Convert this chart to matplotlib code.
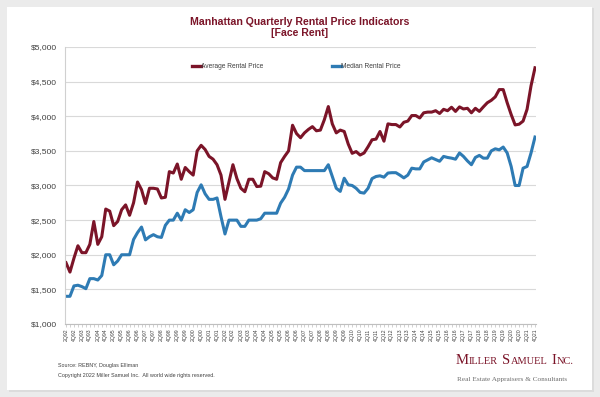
import numpy as np
import matplotlib
matplotlib.use("Agg")
import matplotlib.pyplot as plt
from matplotlib.patches import Rectangle

# quarterly series, 2Q92 .. 4Q21
years = list(range(1992, 2022))
quarters = [f"{q}Q{str(y)[-2:]}" for y in years for q in (1, 2, 3, 4)][1:]

average_rent = [
    1885, 1750, 1950, 2130, 2030, 2030, 2150, 2480, 2150, 2260,
    2660, 2630, 2420, 2480, 2650, 2720, 2570, 2750, 3050, 2940,
    2740, 2960, 2960, 2950, 2820, 2830, 3200, 3180, 3310, 3090,
    3260, 3200, 3150, 3500, 3580, 3520, 3420, 3380, 3300, 3150,
    2800, 3050, 3300, 3100, 2960, 2910, 3090, 3090, 2985, 2990,
    3200, 3170, 3110, 3090, 3330, 3420, 3500, 3870, 3750, 3690,
    3760, 3810, 3850, 3790, 3800, 3950, 4140, 3890, 3760, 3800,
    3780, 3600, 3465, 3490, 3440, 3470, 3560, 3660, 3670, 3780,
    3640, 3890, 3880, 3880, 3845, 3913, 3930, 4010, 4010, 3975,
    4050, 4060, 4060, 4080, 4040, 4100, 4080, 4130, 4070, 4135,
    4105, 4115, 4050, 4115, 4070, 4135, 4195, 4230, 4280, 4385,
    4385, 4195, 4025, 3875, 3885, 3930, 4100, 4440, 4700,
]

median_rent = [
    1400, 1400, 1550, 1560, 1540, 1510, 1655, 1655, 1635, 1700,
    2000, 2000, 1855, 1910, 2000, 2000, 2000, 2220, 2320, 2400,
    2215, 2260, 2290, 2260, 2250, 2425, 2500, 2500, 2600, 2500,
    2650, 2610, 2650, 2900, 3010, 2880, 2800, 2800, 2820, 2550,
    2300, 2500, 2500, 2500, 2410, 2410, 2500, 2500, 2500, 2520,
    2600, 2600, 2600, 2600, 2745, 2830, 2950, 3150, 3265, 3265,
    3215, 3215, 3215, 3215, 3215, 3215, 3300, 3130, 2960, 2915,
    3105, 3010, 3000, 2960, 2900, 2890, 2960, 3100, 3130, 3140,
    3120, 3180, 3185, 3185, 3150, 3110, 3150, 3250, 3240, 3240,
    3340, 3370, 3400, 3375, 3350, 3420, 3405, 3395, 3380, 3470,
    3420, 3355, 3300, 3405, 3435, 3395, 3395, 3500, 3530, 3515,
    3555, 3470, 3275, 3000, 3000, 3250, 3275, 3470, 3700,
]

y_ticks = list(range(1000, 5001, 500))

AVG_COLOR = "#7b1428"
MED_COLOR = "#2e7bb4"
TEXT_COLOR = "#404040"

plt.rcParams["font.family"] = ["Liberation Sans", "DejaVu Sans"]

fig = plt.figure(figsize=(6, 3.97), dpi=100, facecolor="#ebebeb")

# white card with a faint shadow, kept behind the axes
fig.patches.append(Rectangle((9 / 600, 5 / 397), 585 / 600, 384 / 397, transform=fig.transFigure,
                             facecolor="#dcdcdc", edgecolor="none", zorder=-2))
fig.patches.append(Rectangle((7 / 600, 7 / 397), 585 / 600, 383 / 397, transform=fig.transFigure,
                             facecolor="white", edgecolor="none", zorder=-1))

ax = fig.add_axes([65 / 600, 73 / 397, 471 / 600, 277 / 397])
ax.set_facecolor("none")

x = np.arange(len(quarters))
ax.plot(x, average_rent, color=AVG_COLOR, lw=2.2, label="Average Rental Price", solid_joinstyle="round")
ax.plot(x, median_rent, color=MED_COLOR, lw=2.2, label="Median Rental Price", solid_joinstyle="round")

ax.set_xlim(-0.25, len(quarters) - 0.75)
ax.set_ylim(1000, 5000)
ax.set_yticks(y_ticks)
ax.set_yticklabels([f"${v:,}" for v in y_ticks], fontsize=6, color=TEXT_COLOR)
ax.grid(axis="y", color="#d9d9d9", lw=0.8)
ax.set_axisbelow(True)

ax.set_xticks(x[::2])
ax.set_xticklabels(quarters[::2], rotation=90, fontsize=3.7, color=TEXT_COLOR)
ax.set_xticks(x, minor=True)
ax.tick_params(axis="x", which="both", length=2, width=0.5, color="#bfbfbf", pad=1.5)
ax.tick_params(axis="y", length=0, pad=6)

for side in ("top", "right"):
    ax.spines[side].set_visible(False)
ax.spines["left"].set_color("#d0d0d0")
ax.spines["bottom"].set_color("#bfbfbf")
ax.spines["left"].set_linewidth(0.8)
ax.spines["bottom"].set_linewidth(0.8)

leg = ax.legend(loc="center left", bbox_to_anchor=(0.27, 0.928), ncol=2, frameon=False,
                fontsize=4.8, handlelength=1.35, handletextpad=0.0, columnspacing=10.3,
                borderpad=0, borderaxespad=0)
for text in leg.get_texts():
    text.set_color(TEXT_COLOR)
for line in leg.get_lines():
    line.set_linewidth(2.4)

fig.text(0.5, 0.958, "Manhattan Quarterly Rental Price Indicators\n[Face Rent]", ha="center", va="top",
         fontsize=7.6, fontweight="bold", color=AVG_COLOR, linespacing=1.15)

fig.text(58 / 600, 1 - 366 / 397, "Source: REBNY, Douglas Elliman", fontsize=3.9, color=TEXT_COLOR, va="center")
fig.text(58 / 600, 1 - 376 / 397, "Copyright 2022 Miller Samuel Inc.  All world wide rights reserved.",
         fontsize=3.9, color=TEXT_COLOR, va="center")

# logo in small caps, built piece by piece
renderer = fig.canvas.get_renderer()
pieces = [("M", 10.5), ("ILLER", 7.5), (" ", 0), ("S", 10.5), ("AMUEL", 7.5), (" ", 0), ("I", 10.5), ("NC.", 7.5)]
cursor = 456 / 600
for piece, size in pieces:
    if not piece.strip():
        cursor += 0.007
        continue
    t = fig.text(cursor, 1 - 364 / 397, piece, fontsize=size, color=AVG_COLOR,
                 family=["Liberation Serif", "DejaVu Serif"], va="baseline")
    cursor += t.get_window_extent(renderer).width / fig.bbox.width
fig.text(457 / 600, 1 - 381 / 397, "Real Estate Appraisers & Consultants", fontsize=5.2, color="#6e6e6e",
         family=["Liberation Serif", "DejaVu Serif"], va="baseline")

fig.savefig("out.png", dpi=100, facecolor=fig.get_facecolor())
